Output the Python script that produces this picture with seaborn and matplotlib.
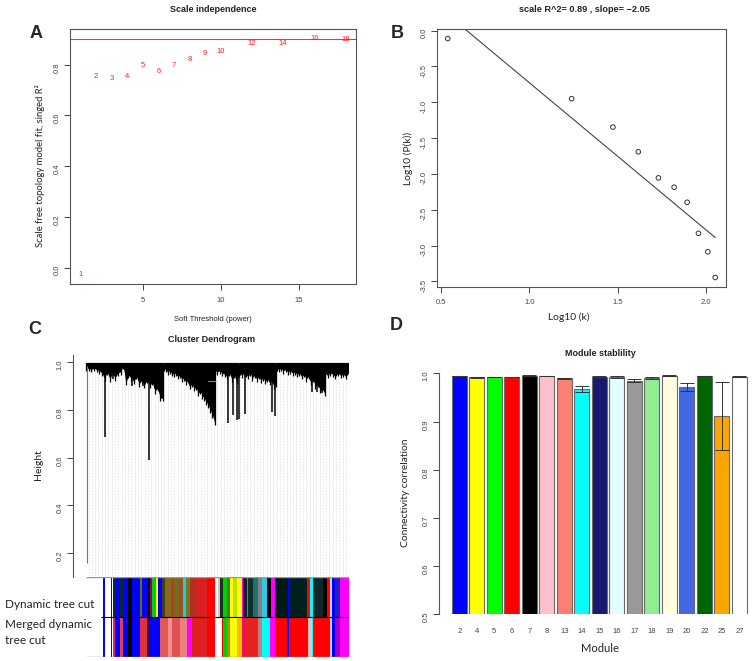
import numpy as np
import matplotlib
matplotlib.use("Agg")
import matplotlib.pyplot as plt
import seaborn as sns

# ---------------- Panel A: scale independence ----------------
powers = [1, 2, 3, 4, 5, 6, 7, 8, 9, 10, 12, 14, 16, 18]
sft_r2 = [-0.028, 0.754, 0.746, 0.753, 0.795, 0.771, 0.796, 0.820, 0.845,
          0.852, 0.881, 0.883, 0.901, 0.899]
r2_cut = 0.90

# ---------------- Panel B: scale-free fit ----------------
log_k = [0.537, 1.239, 1.473, 1.617, 1.731, 1.820, 1.894, 1.958, 2.011, 2.053]
log_pk = [-0.112, -0.951, -1.347, -1.692, -2.056, -2.186, -2.396, -2.829,
          -3.087, -3.445]
fit_slope = -2.05
fit_intercept = 1.32
fit_r2 = 0.89

# ---------------- Panel C: dendrogram (leaf units 0..263) ----------------
blk_start = [0, 77.5, 129, 153.5, 190.5, 239]
blk_end = [77, 128.5, 153, 190, 238.5, 262.5]
blk_top = 0.997
blk1_bottom = [0.975, 0.975, 0.97, 0.975, 0.97, 0.965, 0.955, 0.935, 0.96, 0.93,
               0.955, 0.935, 0.955, 0.96, 0.985, 0.915, 0.945, 0.935, 0.92, 0.94,
               0.91, 0.925, 0.905, 0.925, 0.905, 0.915, 0.88, 0.89, 0.85, 0.85]
blk2_bottom = [0.975, 0.97, 0.96, 0.965, 0.955, 0.95, 0.955, 0.94, 0.945, 0.93,
               0.935, 0.915, 0.925, 0.90, 0.91, 0.89, 0.895, 0.87, 0.88, 0.86,
               0.85, 0.835, 0.82, 0.80, 0.78, 0.75]
blk3_bottom = [0.965, 0.96, 0.965, 0.955, 0.95, 0.94, 0.955, 0.93, 0.945, 0.92, 0.95]
blk4_bottom = [0.96, 0.945, 0.955, 0.95, 0.94, 0.955, 0.935, 0.945, 0.93, 0.94,
               0.925, 0.935, 0.92, 0.93, 0.915, 0.925, 0.90, 0.91]
blk5_bottom = [0.975, 0.97, 0.975, 0.965, 0.97, 0.96, 0.965, 0.955, 0.96, 0.95,
               0.955, 0.94, 0.95, 0.93, 0.94, 0.915, 0.93, 0.90, 0.91, 0.885,
               0.89, 0.872]
blk6_bottom = [0.955, 0.945, 0.955, 0.95, 0.94, 0.955, 0.945, 0.95, 0.94, 0.955]
spike_leaf = [19, 63.3, 27, 46.3, 57.3, 69, 104, 120, 142.3, 146.7, 150.7, 153.3,
              158.7, 185.7, 189, 225.7, 231, 236]
spike_bottom = [0.688, 0.59, 0.93, 0.90, 0.90, 0.89, 0.90, 0.86, 0.746, 0.778,
                0.757, 0.764, 0.785, 0.792, 0.774, 0.877, 0.875, 0.872]
outlier_leaf = 0.7
outlier_bottom = 0.158

dyn_start = [17.3, 24.7, 27.3, 30, 34, 36.7, 42.3, 45.7, 54, 55.7, 60.7, 64, 65.7,
             70, 71.7, 75.7, 79, 85, 88, 93, 97.3, 100, 104, 109, 120.7,
             132.3, 134, 137.3, 140.7, 144, 147.3, 150.7, 155.7, 157.3, 160.7,
             162.3, 167.3, 172.3, 175.7, 180.7, 185, 189, 202.3, 204, 220.7, 224,
             227.3, 237.3, 240.7, 244, 245.7, 249, 254]
dyn_end = [18.7, 26, 30, 34, 36.7, 42.3, 45.7, 54, 55.7, 60.7, 64, 65.7, 70,
           71.7, 75.7, 79, 85, 88, 93, 97.3, 100, 104, 109, 120.7, 129,
           134, 137.3, 140.7, 144, 147.3, 150.7, 155.7, 157.3, 160.7, 162.3,
           167.3, 172.3, 175.7, 180.7, 185, 189, 202.3, 204, 220.7, 224, 227.3,
           237.3, 240.7, 244, 245.7, 249, 254, 263]
dyn_col = ["#0000ff", "#0000ff", "#0a2a2a", "#0000ff", "#0a2a2a", "#0000ff",
           "#000000", "#0000ff", "#6b6b10", "#0000ff", "#000000", "#800080",
           "#00d000", "#ffff00", "#0000ff", "#404010", "#8a6a1a", "#b04020",
           "#7a6a20", "#a05020", "#00e0e0", "#807020", "#b03020", "#d82020",
           "#ff0000",
           "#c8c8c8", "#203020", "#00d000", "#4a7a30", "#ffff00", "#c0e000",
           "#ffff00", "#ff00ff", "#102020", "#20a0a0", "#103030", "#207070",
           "#808080", "#30c8e8", "#000000", "#ff00ff", "#001818", "#0000ff",
           "#002020", "#ff0000", "#00ffff", "#0a2828", "#000000", "#ff0000",
           "#d0d0d0", "#0000ff", "#2020c0", "#ff00ff"]

mrg_start = [17.3, 24.7, 27.3, 29, 34, 37.3, 42.3, 45.7, 54, 60.7, 64, 74, 82,
             86, 94, 100.7, 105.7, 120.7,
             135.7, 137.3, 140.7, 144, 150.7, 155.7, 159, 172.3, 175.7, 184,
             189, 200.7, 203, 222.3, 225.7, 227.3, 244, 245.7, 249, 254]
mrg_end = [18.7, 26, 29, 34, 37.3, 42.3, 45.7, 54, 60.7, 64, 74, 82, 86, 94,
           100.7, 105.7, 120.7, 129,
           137.3, 140.7, 144, 150.7, 155.7, 159, 172.3, 175.7, 184, 189,
           200.7, 203, 222.3, 225.7, 227.3, 244, 245.7, 249, 254, 263]
mrg_col = ["#0000ff", "#0000ff", "#e0206a", "#0000ff", "#e04060", "#0000ff",
           "#000000", "#0000ff", "#e03040", "#400030", "#0000ff", "#e05858",
           "#f09090", "#e05050", "#ec8080", "#ff00ff", "#e02020", "#ff0000",
           "#ff0000", "#00d000", "#c08020", "#ffff00", "#f0c000", "#f01060",
           "#e82020", "#c08080", "#00ffff", "#ff00ff", "#ff0000", "#0000ff",
           "#ff0000", "#f0c0c0", "#00ffff", "#ff0000", "#c8c8c8", "#0000ff",
           "#a000c0", "#ff00ff"]

# ---------------- Panel D: module stability ----------------
modules = ["2", "4", "5", "6", "7", "8", "13", "14", "15", "16", "17", "18",
           "19", "20", "22", "25", "27"]
stab_mean = [0.9945, 0.992, 0.992, 0.992, 0.995, 0.9945, 0.990, 0.9675, 0.993,
             0.992, 0.985, 0.990, 0.995, 0.972, 0.9945, 0.911, 0.993]
stab_err = [0.0005, 0.001, 0.0007, 0.0007, 0.0005, 0.0005, 0.001, 0.007, 0.0006,
            0.0015, 0.0035, 0.0015, 0.001, 0.0085, 0.0005, 0.070, 0.0008]
mod_colors = ["#0000FF", "#FFFF00", "#00FF00", "#FF0000", "#000000", "#FFC0CB",
              "#FA8072", "#00FFFF", "#191970", "#E0FFFF", "#999999", "#90EE90",
              "#FFFFE0", "#4169E1", "#006400", "#FFA500", "#FFFFFF"]

# ---------------- figure ----------------
sns.set_style("white")
plt.rcParams["font.family"] = ["Liberation Sans", "DejaVu Sans"]
LAB = ["Lato", "DejaVu Sans"]
TICK_C = "#444444"
SPINE_C = "#555555"

W, H = 753, 661
fig = plt.figure(figsize=(W / 100, H / 100), dpi=100)


def ax_px(x0, y0, x1, y1):
    return fig.add_axes([x0 / W, 1 - y1 / H, (x1 - x0) / W, (y1 - y0) / H])


def ftext(x, y, s, **kw):
    fig.text(x / W, 1 - y / H, s, **kw)


def style(ax, sides):
    for s in ["left", "right", "top", "bottom"]:
        ax.spines[s].set_visible(s in sides)
        ax.spines[s].set_color(SPINE_C)
        ax.spines[s].set_linewidth(0.8)
    ax.tick_params(colors=TICK_C, labelcolor=TICK_C, length=4, width=0.7,
                   labelsize=5.5, pad=3, direction="out")
    ax.tick_params(axis="y", labelrotation=90)
    ax.tick_params(left="left" in sides, bottom="bottom" in sides)
    ax.grid(False)


# ---- A ----
axA = ax_px(70, 29, 356, 284)
style(axA, ["left", "right", "top", "bottom"])
axA.set_xlim(0.32, 18.68)
axA.set_ylim(-0.065, 0.94)
axA.axhline(r2_cut, color="#ff3030", lw=0.8)
for p, r in zip(powers, sft_r2):
    axA.text(p, r, str(p), color="#ff2020", ha="center", va="center", fontsize=5.5)
axA.set_xticks([5, 10, 15])
axA.set_yticks([0.0, 0.2, 0.4, 0.6, 0.8])
axA.set_yticklabels(["0.0", "0.2", "0.4", "0.6", "0.8"])
axA.tick_params(axis="x", pad=5)
ftext(213, 10, "Scale independence", ha="center", va="center", fontsize=6.5,
      fontweight="bold", color="#222222")
ftext(213, 319, "Soft Threshold (power)", ha="center", va="center", fontsize=5.5,
      color="#222222")
ftext(40, 166, "Scale free topology model fit, singed R\u00b2", ha="center",
      va="center", rotation=90, fontsize=6.8, family=LAB, color="#222222")
ftext(36, 34, "A", ha="center", va="center", fontsize=13, fontweight="bold")

# ---- B ----
axB = ax_px(437, 29, 726, 287)
style(axB, ["left", "right", "top", "bottom"])
sns.scatterplot(x=log_k, y=log_pk, ax=axB, s=11, marker="o", facecolors="none",
                edgecolor="#333333", linewidth=0.7)
fit_x = np.array([log_k[0], log_k[-1]])
sns.lineplot(x=fit_x, y=fit_intercept + fit_slope * fit_x, ax=axB, color="#444444",
             lw=0.8)
axB.set_xlim(0.476, 2.114)
axB.set_ylim(-3.578, 0.021)
axB.set_xticks([0.5, 1.0, 1.5, 2.0])
axB.set_xticklabels(["0.5", "1.0", "1.5", "2.0"])
axB.set_yticks([0.0, -0.5, -1.0, -1.5, -2.0, -2.5, -3.0, -3.5])
axB.set_yticklabels(["0.0", "-0.5", "-1.0", "-1.5", "-2.0", "-2.5", "-3.0", "-3.5"])
axB.tick_params(axis="x", pad=5)
ftext(584, 10, f"scale R^2= {fit_r2:.2f} , slope= \u2212{abs(fit_slope):.2f}",
      ha="center", va="center", fontsize=6.6, fontweight="bold", color="#222222")
ftext(569, 317, "Log10 (k)", ha="center", va="center", fontsize=7.4, family=LAB,
      color="#222222")
ftext(408, 158, "Log10 (P(k))", ha="center", va="center", rotation=90,
      fontsize=7.4, family=LAB, color="#222222")
ftext(397, 34, "B", ha="center", va="center", fontsize=13, fontweight="bold")

# ---- C dendrogram ----
axC = ax_px(73, 355, 349, 577)
style(axC, ["left"])
axC.set_xlim(-13, 263)
axC.set_ylim(0.1, 1.0306)
axC.set_xticks([])
axC.set_yticks([0.2, 0.4, 0.6, 0.8, 1.0])
axC.vlines(np.arange(2.5, 263, 3.3), 0.1, 0.975, colors="#d2d2d2",
           linestyles=(0, (1, 1.2)), lw=0.5, zorder=0)
axC.hlines(0.998, 0, 263, color="#8a8a8a", lw=1.0, zorder=1)
for s, e, bottoms in zip(blk_start, blk_end,
                         [blk1_bottom, blk2_bottom, blk3_bottom, blk4_bottom,
                          blk5_bottom, blk6_bottom]):
    xs = np.linspace(s, e, len(bottoms))
    axC.fill_between(xs, bottoms, blk_top, color="black", lw=0, zorder=2)
    axC.vlines(xs, np.subtract(bottoms, 0.012), blk_top, color="black", lw=0.9,
               zorder=2)
    axC.fill_between([s, e], 0.975, blk_top, color="black", lw=0, zorder=2)
axC.vlines(spike_leaf, spike_bottom, 0.97, color="black", lw=1.1, zorder=2)
axC.vlines(outlier_leaf, outlier_bottom, 0.985, color="#777777", lw=0.8, zorder=2)
axC.plot([122, 129], [0.92, 0.92], color="#888888", lw=0.8)
ftext(212, 339, "Cluster Dendrogram", ha="center", va="center", fontsize=6.5,
      fontweight="bold", color="#222222")
ftext(39, 465, "Height", ha="center", va="center", rotation=90, fontsize=7.5,
      family=LAB, color="#222222")
ftext(35, 330, "C", ha="center", va="center", fontsize=13, fontweight="bold")

# ---- C colour rows ----
axCol = ax_px(86, 577, 349, 657)
for s in axCol.spines.values():
    s.set_visible(False)
axCol.set_xlim(0, 263)
axCol.set_ylim(2, 0)
axCol.set_xticks([])
axCol.set_yticks([])
axCol.bar(dyn_start, 1, width=np.subtract(dyn_end, dyn_start), bottom=0,
          align="edge", color=dyn_col, lw=0)
axCol.bar(mrg_start, 1, width=np.subtract(mrg_end, mrg_start), bottom=1,
          align="edge", color=mrg_col, lw=0)
axCol.hlines(1, 15, 263, color="black", lw=0.8)
axCol.hlines([0.01, 1.99], 0, 263, color="#999999", lw=1.0)
ftext(5, 604, "Dynamic tree cut", ha="left", va="center", fontsize=8.5, family=LAB,
      color="#222222")
ftext(5, 624, "Merged dynamic", ha="left", va="center", fontsize=8.5, family=LAB,
      color="#222222")
ftext(5, 641, "tree cut", ha="left", va="center", fontsize=8.5, family=LAB,
      color="#222222")

# ---- D ----
axD = ax_px(439.3, 373.3, 753, 614.3)
style(axD, ["left"])
sns.barplot(x=modules, y=stab_mean, hue=modules, palette=mod_colors, legend=False,
            ax=axD, width=0.84, edgecolor="#6a6a6a", linewidth=0.8, saturation=1)
axD.errorbar(np.arange(len(modules)), stab_mean, yerr=stab_err, fmt="none",
             ecolor="#333333", elinewidth=0.7, capsize=5, capthick=0.7)
axD.set_ylim(0.5, 1.0)
axD.set_xlim(-1.14, 16.78)
axD.set_yticks([0.5, 0.6, 0.7, 0.8, 0.9, 1.0])
axD.set_yticklabels(["0.5", "0.6", "0.7", "0.8", "0.9", "1.0"])
axD.tick_params(axis="x", length=0, pad=10)
axD.set_xlabel("")
axD.set_ylabel("")
ftext(600, 353, "Module stablility", ha="center", va="center", fontsize=6.5,
      fontweight="bold", color="#222222")
ftext(600, 648, "Module", ha="center", va="center", fontsize=8, family=LAB,
      color="#222222")
ftext(406, 493, "Connectivity correlation", ha="center", va="center", rotation=90,
      fontsize=7.4, family=LAB, color="#222222")
ftext(396, 326, "D", ha="center", va="center", fontsize=13, fontweight="bold")

fig.savefig("out.png", dpi=100)
